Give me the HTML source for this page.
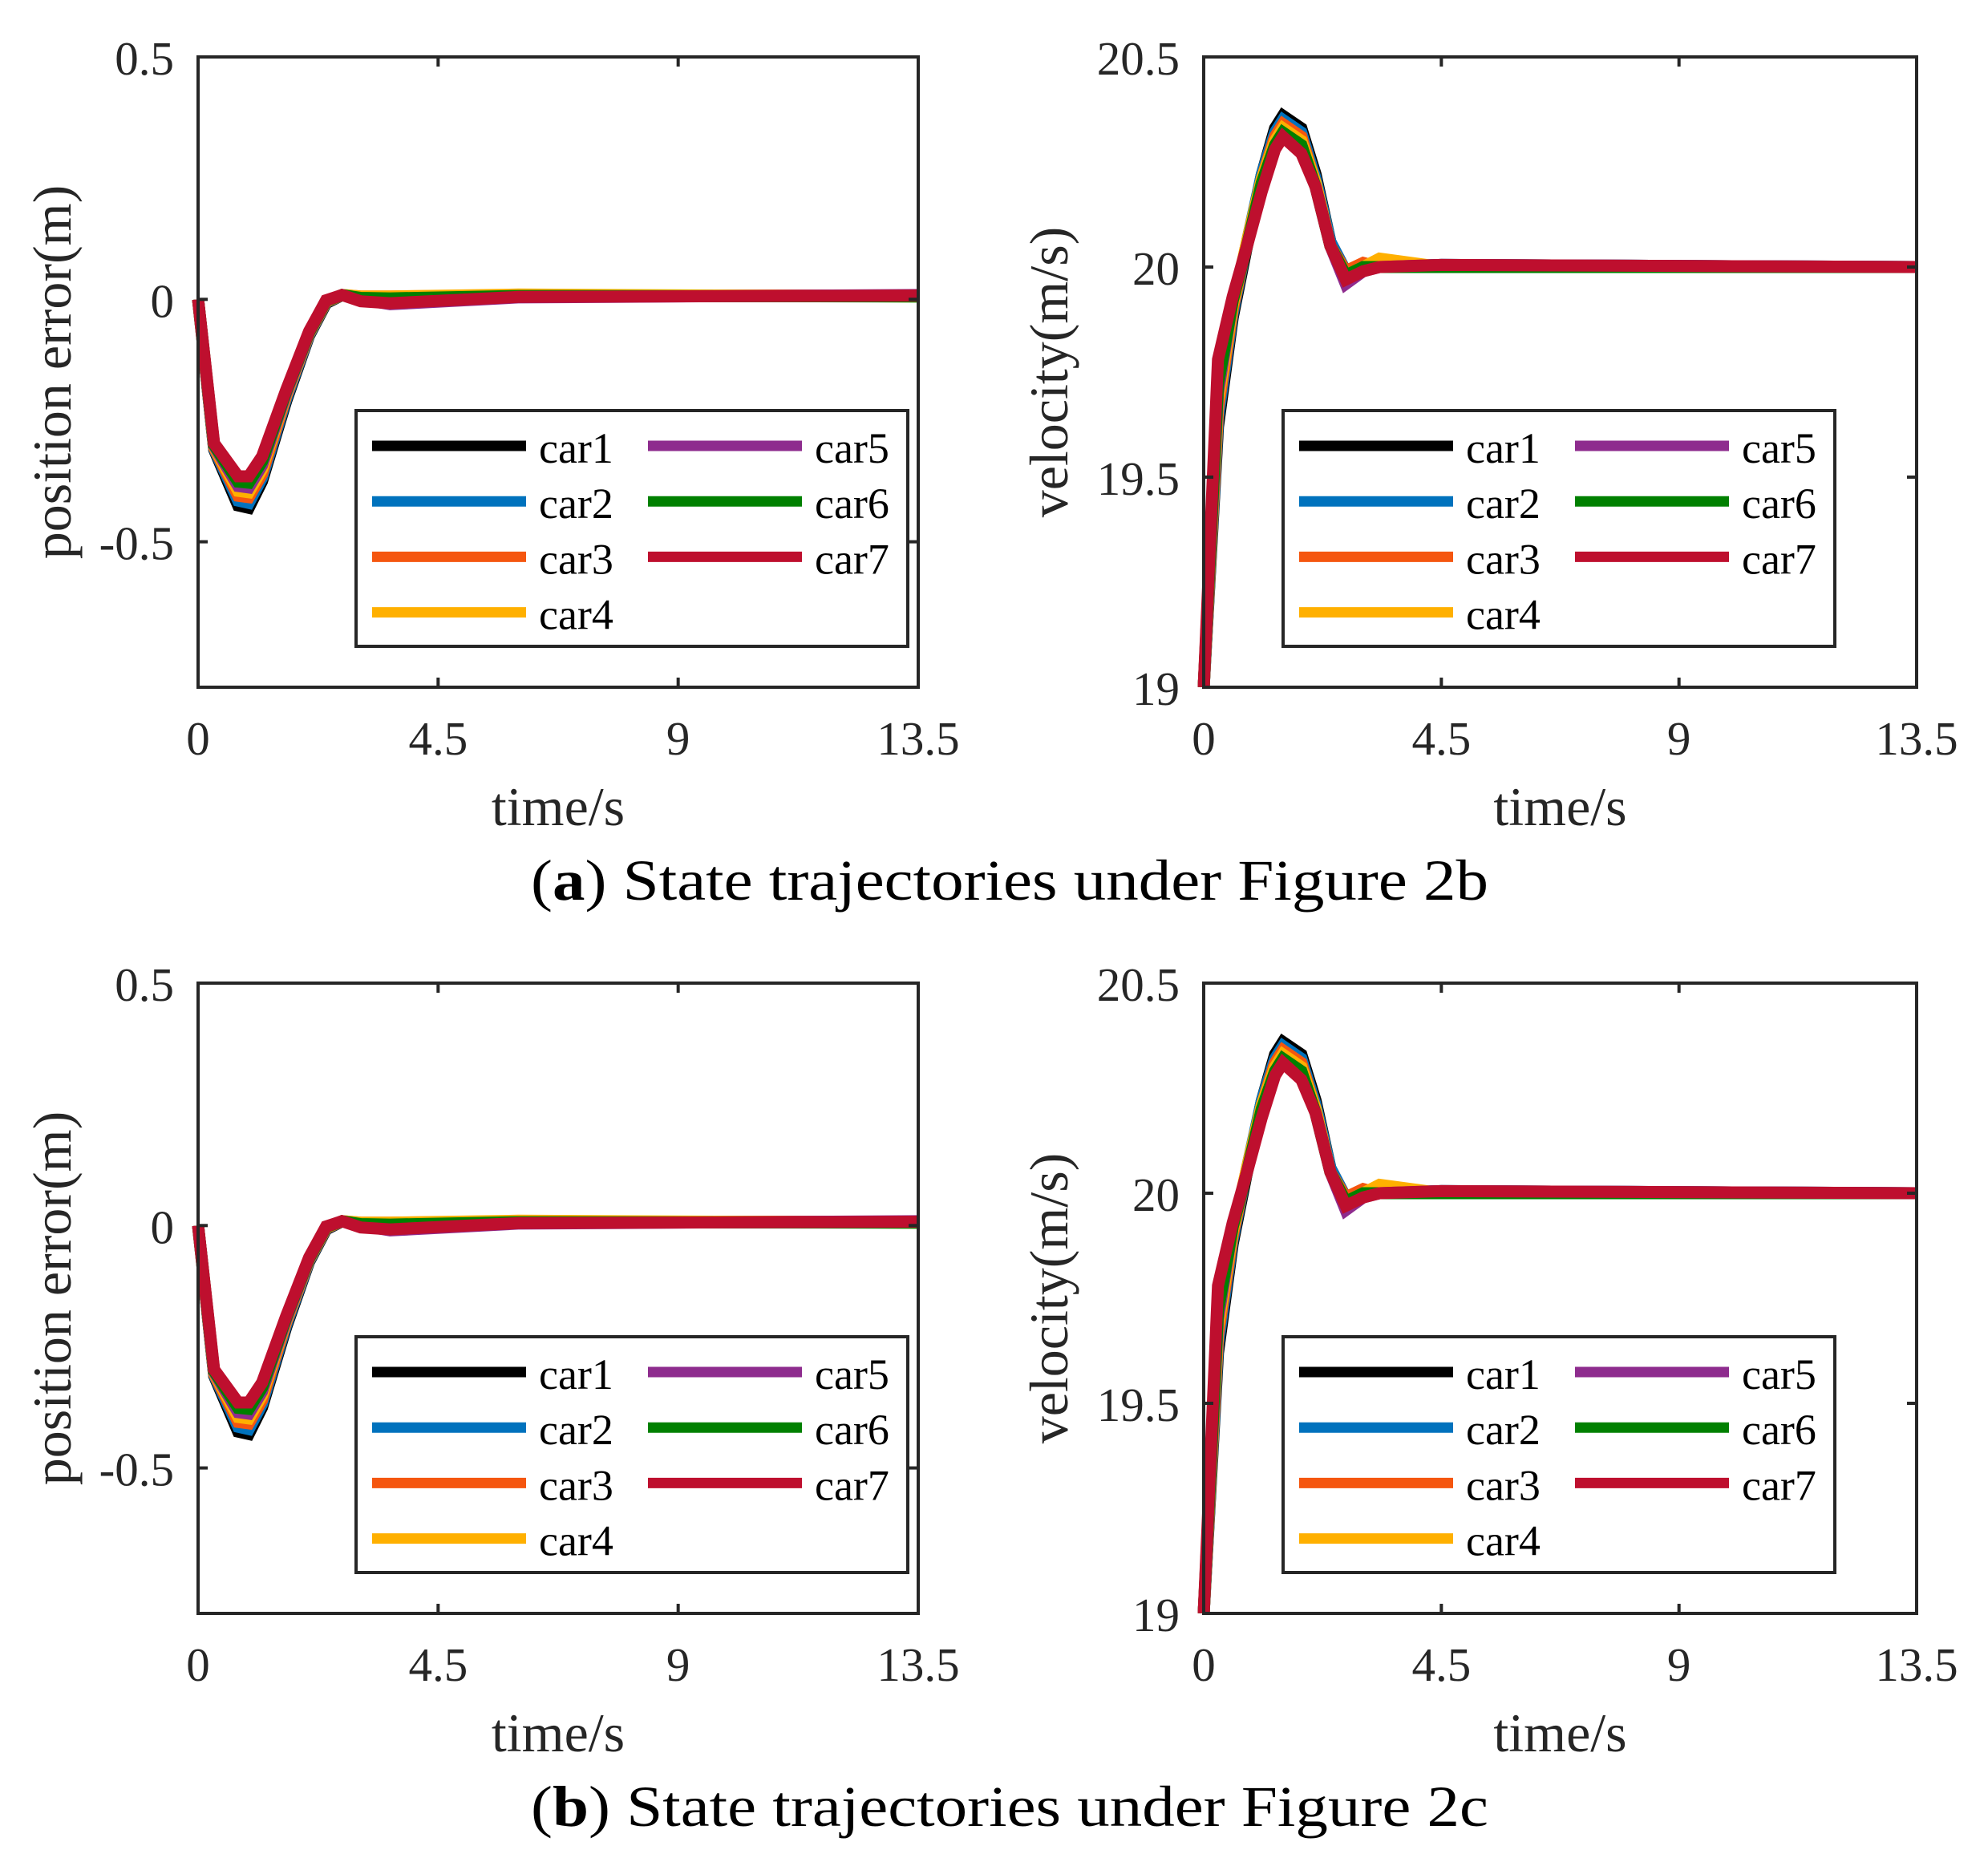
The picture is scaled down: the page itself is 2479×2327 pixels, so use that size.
<!DOCTYPE html>
<html><head><meta charset="utf-8"><style>
html,body{margin:0;padding:0;background:#fff;}
svg{display:block;font-family:"Liberation Serif",serif;}
</style></head><body>
<svg id="fig" width="2479" height="2327" viewBox="0 0 2479 2327" xmlns="http://www.w3.org/2000/svg"></svg>
<script>
// ---- data ----
const carNames = ['car1','car2','car3','car4','car5','car6','car7'];
const carColors = ['#000000','#0072BD','#F5560F','#FFB000','#8E2C8E','#008000','#BE0F2E'];
const xTickLabels = ['0','4.5','9','13.5'];
const xTicks = [0,4.5,9,13.5];
const posTicks = [0.5,0,-0.5];
const posTickLabels = ['0.5','0','-0.5'];
const velTicks = [20.5,20,19.5,19];
const velTickLabels = ['20.5','20','19.5','19'];
const posTime = [0,0.3,0.75,0.95,1.2,1.65,2.08,2.4,2.7,3.05,3.6,6,13.5];
const posCar1 = [0,-0.31,-0.425,-0.43,-0.375,-0.21,-0.075,-0.008,0.009,0.003,0.002,0.006,0.008];
const posCar2 = [0,-0.308,-0.415,-0.42,-0.368,-0.205,-0.073,-0.006,0.009,0.004,0.003,0.006,0.007];
const posCar3 = [0,-0.306,-0.405,-0.408,-0.36,-0.2,-0.071,-0.005,0.009,0.006,0.006,0.008,0.008];
const posCar4 = [0,-0.304,-0.395,-0.398,-0.35,-0.197,-0.07,-0.004,0.009,0.006,0.006,0.01,0.006];
const posCar5 = [0,-0.302,-0.385,-0.388,-0.342,-0.194,-0.069,-0.003,0.009,0.0,-0.01,0.004,0.009];
const posCar6 = [0,-0.3,-0.376,-0.378,-0.334,-0.19,-0.068,-0.003,0.009,0.003,0.002,0.007,0.006];
const posCar7 = [0,-0.297,-0.365,-0.365,-0.324,-0.187,-0.066,-0.002,0.009,-0.004,-0.008,0.005,0.008];
const velTime = [0,0.27,0.55,0.82,1.1,1.35,1.5,1.85,2.12,2.4,2.69,3.02,3.33,4.5,13.5];
const velCar1 = [19,19.62,19.88,20.05,20.22,20.33,20.36,20.33,20.22,20.06,19.99,20.0,20.0,20.005,20.0];
const velCar2 = [19,19.64,19.89,20.06,20.22,20.32,20.35,20.32,20.21,20.06,19.99,20.0,20.0,20.005,20.0];
const velCar3 = [19,19.66,19.9,20.06,20.21,20.31,20.34,20.31,20.2,20.05,19.99,20.01,20.0,20.0,20.0];
const velCar4 = [19,19.68,19.91,20.06,20.21,20.3,20.33,20.3,20.2,20.05,19.98,20.0,20.02,20.0,20.0];
const velCar5 = [19,19.7,19.92,20.05,20.2,20.29,20.32,20.29,20.19,20.05,19.96,19.99,20.0,20.005,20.0];
const velCar6 = [19,19.72,19.92,20.05,20.2,20.29,20.32,20.29,20.19,20.05,19.98,20.0,20.0,20.0,20.0];
const velCar7 = [19,19.78,19.93,20.05,20.18,20.28,20.31,20.27,20.19,20.05,19.97,19.99,20.0,20.005,20.0];
const posSeries = [posCar1,posCar2,posCar3,posCar4,posCar5,posCar6,posCar7];
const velSeries = [velCar1,velCar2,velCar3,velCar4,velCar5,velCar6,velCar7];

const NS='http://www.w3.org/2000/svg';
const svg=document.getElementById('fig');
function mk(tag,attrs,parent){const e=document.createElementNS(NS,tag);for(const k in attrs)e.setAttribute(k,attrs[k]);(parent||svg).appendChild(e);return e;}

function panel(o){
  const g=mk('g',{});
  
  
  const L=o.x0,R=o.x1,T=o.y0,B=o.y1;
  const sx=t=>L+(t-0)/(13.5-0)*(R-L);
  const sy=v=>B-(v-o.ymin)/(o.ymax-o.ymin)*(B-T);
  // series
  o.series.forEach((arr,i)=>{
    const d=arr.map((v,j)=>(j?'L':'M')+sx(o.time[j]).toFixed(1)+','+sy(v).toFixed(1)).join(' ');
    const p=mk('path',{d:d,fill:'none',stroke:carColors[i],'stroke-width':15,'stroke-linejoin':'miter','stroke-linecap':'butt'},g);
    
    
  });
  // axes box
  const box=mk('rect',{x:L,y:T,width:R-L,height:B-T,fill:'none',stroke:'#262626','stroke-width':4},g);
  
  
  xTicks.forEach((t,i)=>{
    const x=sx(t);
    mk('line',{x1:x,y1:B,x2:x,y2:B-12,stroke:'#262626','stroke-width':4},g);
    mk('line',{x1:x,y1:T,x2:x,y2:T+12,stroke:'#262626','stroke-width':4},g);
    const tx=mk('text',{x:x,y:B+84,'font-size':59,'text-anchor':'middle',fill:'#262626'},g);
    tx.textContent=xTickLabels[i];
    
    
  });
  o.ticks.forEach((v,i)=>{
    const y=sy(v);
    mk('line',{x1:L,y1:y,x2:L+12,y2:y,stroke:'#262626','stroke-width':4},g);
    mk('line',{x1:R,y1:y,x2:R-12,y2:y,stroke:'#262626','stroke-width':4},g);
    const ty=mk('text',{x:L-30,y:y+22,'font-size':59,'text-anchor':'end',fill:'#262626'},g);
    ty.textContent=o.tickLabels[i];
    
    
  });
  const xl=mk('text',{x:(L+R)/2,y:B+172,'font-size':68,'text-anchor':'middle',fill:'#262626'},g);
  xl.textContent='time/s';
  
  
  const yc=(T+B)/2;
  const yl=mk('text',{x:0,y:0,'font-size':68,'text-anchor':'middle',fill:'#262626',transform:'translate('+o.ylx+','+yc+') rotate(-90)'},g);
  yl.textContent=o.ylabel;
  
  
  // legend
  const lg=mk('g',{},g);
  
  
  const lx=o.legX, ly=T+441;
  mk('rect',{x:lx,y:ly,width:688,height:294,fill:'#fff',stroke:'#262626','stroke-width':4},lg);
  const rows=[0,1,2,3,0,1,2];
  carNames.forEach((n,i)=>{
    const col=i<4?0:1;
    const yy=ly+44+rows[i]*69.2;
    const x0=lx+20+col*344;
    const ln=mk('line',{x1:x0,y1:yy,x2:x0+192,y2:yy,stroke:carColors[i],'stroke-width':13},lg);
    
    
    const t=mk('text',{x:x0+208,y:yy+21,'font-size':54,fill:'#000'},lg);
    t.textContent=n;
    
    
  });
}

[0,1155].forEach(off=>{
  panel({name:'position-error-chart',x0:247,x1:1145,y0:71+off,y1:857+off,ymin:-0.8,ymax:0.5,
    time:posTime,series:posSeries,ticks:posTicks,tickLabels:posTickLabels,ylabel:'position error(m)',ylx:88,legX:444});
  panel({name:'velocity-chart',x0:1501,x1:2390,y0:71+off,y1:857+off,ymin:19,ymax:20.5,
    time:velTime,series:velSeries,ticks:velTicks,tickLabels:velTickLabels,ylabel:'velocity(m/s)',ylx:1331,legX:1600});
});

function caption(y,letter,fig){
  const t=mk('text',{x:662,y:y,'font-size':72,fill:'#000',textLength:1194,lengthAdjust:'spacingAndGlyphs'});
  
  
  t.appendChild(document.createTextNode('('));
  const b=document.createElementNS(NS,'tspan');b.setAttribute('font-weight','bold');b.textContent=letter;t.appendChild(b);
  t.appendChild(document.createTextNode(') State trajectories under Figure '+fig));
}
caption(1122,'a','2b');
caption(2277,'b','2c');
</script>
</body></html>
